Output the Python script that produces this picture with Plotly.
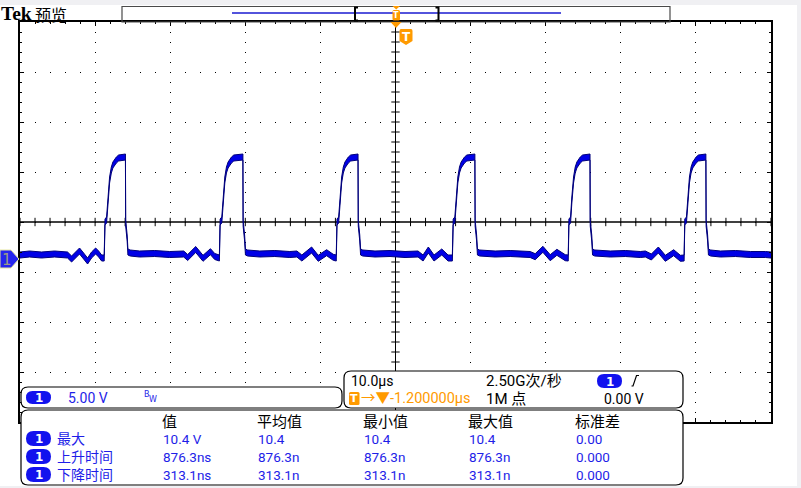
import numpy as np
import plotly.graph_objects as go

# ---------------- data read from the screen ----------------
# channel 1 waveform: time in microseconds, voltage in volts
time_us = [
    -50.0, -48.73, -47.13, -45.40, -43.67, -43.13, -42.60, -42.07, -41.53, -41.00, -40.47, -39.93, -39.53, -39.13, -38.79,
    -38.68, -38.47, -38.29, -38.07, -37.84, -37.63, -37.17, -36.87, -35.96, -35.93, -35.73, -35.63, -35.33,
    -34.07, -32.07, -30.07, -28.20, -27.67, -26.60, -25.63, -24.64, -24.07, -23.45,
    -23.35, -23.13, -22.96, -22.73, -22.51, -22.29, -21.84, -21.53, -20.32, -20.29, -20.09, -19.98, -19.69,
    -18.07, -16.07, -14.07, -13.13, -12.47, -11.17, -10.29, -9.17, -8.29, -7.89,
    -7.79, -7.57, -7.40, -7.17, -6.95, -6.73, -6.28, -5.97, -4.99, -4.96, -4.76, -4.65, -4.36,
    -2.73, -0.73, 1.27, 3.00, 3.67, 4.37, 5.13, 6.16, 7.00, 7.57,
    7.68, 7.90, 8.07, 8.30, 8.52, 8.74, 9.19, 9.50, 10.57, 10.60, 10.80, 10.91, 11.20,
    13.27, 15.27, 17.27, 17.93, 18.60, 19.63, 20.60, 21.49, 22.60, 23.00,
    23.09, 23.31, 23.48, 23.71, 23.93, 24.15, 24.60, 24.91, 25.90, 25.93, 26.13, 26.24, 26.53,
    28.60, 30.60, 32.60, 33.27, 34.07, 35.00, 35.93, 37.04, 37.93, 38.43,
    38.52, 38.74, 38.91, 39.14, 39.36, 39.58, 40.03, 40.34, 41.33, 41.36, 41.56, 41.67, 41.96,
    43.27, 45.27, 47.27, 49.27, 50.0,
]
volts = [
    0.3, 0.4, 0.3, 0.4, 0.3, -0.1, 0.3, 0.7, 0.2, -0.3, 0.3, 0.7, 0.4, 0.0, 0.0,
    3.6, 3.8, 5.8, 7.8, 8.8, 9.3, 9.8, 10.0, 10.1, 3.5, 2.0, 0.6, 0.5,
    0.4, 0.45, 0.35, 0.4, 0.05, 0.85, -0.03, 0.63, 0.15, 0.0,
    3.6, 3.8, 5.8, 7.8, 8.8, 9.3, 9.8, 10.0, 10.1, 3.5, 2.0, 0.6, 0.5,
    0.4, 0.45, 0.35, 0.4, 0.0, 0.8, -0.03, 0.53, 0.07, 0.0,
    3.6, 3.8, 5.8, 7.8, 8.8, 9.3, 9.8, 10.0, 10.1, 3.5, 2.0, 0.6, 0.5,
    0.4, 0.45, 0.35, 0.4, 0.0, 0.8, 0.0, 0.6, 0.0, 0.0,
    3.6, 3.8, 5.8, 7.8, 8.8, 9.3, 9.8, 10.0, 10.1, 3.5, 2.0, 0.6, 0.5,
    0.4, 0.45, 0.35, 0.35, 0.13, 0.87, 0.03, 0.57, 0.03, 0.0,
    3.6, 3.8, 5.8, 7.8, 8.8, 9.3, 9.8, 10.0, 10.1, 3.5, 2.0, 0.6, 0.5,
    0.4, 0.45, 0.35, 0.4, 0.1, 0.8, -0.03, 0.53, -0.03, 0.0,
    3.6, 3.8, 5.8, 7.8, 8.8, 9.3, 9.8, 10.0, 10.1, 3.5, 2.0, 0.6, 0.5,
    0.4, 0.45, 0.35, 0.35, 0.3,
]

# scope settings shown on screen
time_per_div = 10.0          # µs/div
volts_per_div = 5.0          # V/div
screen_center_v = 3.6        # voltage at the screen centre line
channel_scale_text = "5.00 V"
timebase_text = "10.0µs"
sample_rate_text = "2.50G次/秒"
record_text = "1M 点"
trigger_pos_text = "→▼-1.200000µs"
trigger_level_text = "0.00 V"

# measurement table
meas_headers = ["值", "平均值", "最小值", "最大值", "标准差"]
meas_names = ["最大", "上升时间", "下降时间"]
meas_values = [
    ["10.4 V", "10.4", "10.4", "10.4", "0.00"],
    ["876.3ns", "876.3n", "876.3n", "876.3n", "0.000"],
    ["313.1ns", "313.1n", "313.1n", "313.1n", "0.000"],
]

# ---------------- styling ----------------
W, H = 801, 488
L, T, R, B = 20, 22, 30, 66
PW, PH = W - L - R, H - T - B
BAND = 0.3                    # half thickness of the displayed trace band (V)
NAVY = "#00007a"
TRACE_BLUE = "#0000e6"
TXT_BLUE = "#1e1ee8"
PILL_BLUE = "#1212ee"
ORANGE = "#ff9a00"
LATIN = "Roboto, Noto Sans CJK SC"
CJK = "Noto Sans CJK SC"

x_range = [-5 * time_per_div, 5 * time_per_div]
y_range = [screen_center_v - 4 * volts_per_div, screen_center_v + 4 * volts_per_div]


def px(x):
    return (x - L) / PW


def py(y):
    return (T + PH - y) / PH


def P(x, y):
    return f"{px(x):.5f},{py(y):.5f}"


def rrect(x0, y0, x1, y1, r):
    return (f"M{P(x0 + r, y0)} L{P(x1 - r, y0)} Q{P(x1, y0)} {P(x1, y0 + r)} "
            f"L{P(x1, y1 - r)} Q{P(x1, y1)} {P(x1 - r, y1)} L{P(x0 + r, y1)} "
            f"Q{P(x0, y1)} {P(x0, y1 - r)} L{P(x0, y0 + r)} Q{P(x0, y0)} {P(x0 + r, y0)} Z")


fig = go.Figure()

# graticule: minor marks on the centre cross
cx_ticks = np.arange(x_range[0], x_range[1] + 1e-9, time_per_div / 5)
cy_ticks = np.arange(y_range[0], y_range[1] + 1e-9, volts_per_div / 5)
fig.add_trace(go.Scatter(x=cx_ticks, y=[screen_center_v] * len(cx_ticks), mode="markers",
                         marker=dict(symbol="line-ns", size=6, line=dict(width=1, color="black")),
                         hoverinfo="skip"))
fig.add_trace(go.Scatter(x=[0] * len(cy_ticks), y=cy_ticks, mode="markers",
                         marker=dict(symbol="line-ew", size=6, line=dict(width=1, color="black")),
                         hoverinfo="skip"))
# centre horizontal line
fig.add_trace(go.Scatter(x=x_range, y=[screen_center_v, screen_center_v], mode="lines",
                         line=dict(color="black", width=1.5), hoverinfo="skip"))

# waveform as a band
lower = [v - BAND for v in volts]
upper = [v + BAND for v in volts]
fig.add_trace(go.Scatter(x=time_us, y=lower, mode="lines", line=dict(color=NAVY, width=1),
                         hoverinfo="skip"))
fig.add_trace(go.Scatter(x=time_us, y=upper, mode="lines", line=dict(color=NAVY, width=1),
                         fill="tonexty", fillcolor=TRACE_BLUE, hoverinfo="skip"))

fig.update_layout(
    width=W, height=H, margin=dict(l=L, r=R, t=T, b=B, autoexpand=False),
    paper_bgcolor="white", plot_bgcolor="white", showlegend=False,
    font=dict(family=LATIN, color="black"),
    xaxis=dict(range=x_range, dtick=time_per_div, tick0=0, showticklabels=False,
               showgrid=True, gridcolor="black", gridwidth=1, griddash="1px,9px",
               zeroline=True, zerolinecolor="black", zerolinewidth=1.5,
               showline=True, linecolor="black", linewidth=2, mirror="allticks",
               ticks="inside", ticklen=4, tickcolor="black", automargin=False,
               minor=dict(dtick=time_per_div / 5, tick0=0, ticks="inside", ticklen=2,
                          tickcolor="black", showgrid=False)),
    yaxis=dict(range=y_range, dtick=volts_per_div, tick0=screen_center_v, showticklabels=False,
               showgrid=True, gridcolor="black", gridwidth=1, griddash="1px,14px",
               zeroline=False, showline=True, linecolor="black", linewidth=2, mirror="allticks",
               ticks="inside", ticklen=4, tickcolor="black", automargin=False,
               minor=dict(dtick=volts_per_div / 5, tick0=screen_center_v, ticks="inside", ticklen=2,
                          tickcolor="black", showgrid=False)),
)

shapes = []
ann = []


def text(t, x, y, size, color="black", family=LATIN, xanchor="left", bold=False):
    ann.append(dict(text=f"<b>{t}</b>" if bold else t, x=px(x), y=py(y), xref="paper", yref="paper",
                    showarrow=False, xanchor=xanchor, yanchor="middle", align="left",
                    font=dict(size=size, color=color, family=family), borderpad=0))


def pill(x0, y0, x1, y1, label="1"):
    r = (y1 - y0) / 2
    shapes.append(dict(type="path", path=rrect(x0, y0, x1, y1, r), xref="paper", yref="paper",
                       fillcolor=PILL_BLUE, line=dict(width=0)))
    text(label, (x0 + x1) / 2, (y0 + y1) / 2 + 0.5, 12, "white", "DejaVu Sans", "center", True)


# light frame strips of the window
for (x0, y0, x1, y1) in [(0, 0, 801, 5), (797, 0, 801, 488), (0, 486, 801, 488)]:
    shapes.append(dict(type="rect", xref="paper", yref="paper", x0=px(x0), x1=px(x1),
                       y0=py(y1), y1=py(y0), fillcolor="#f0f0f3", line=dict(width=0)))

# top record bar
shapes.append(dict(type="rect", xref="paper", yref="paper", x0=px(122), x1=px(670), y0=py(22), y1=py(6.5),
                   line=dict(color="#4a4a4a", width=1.2), fillcolor="rgba(0,0,0,0)"))
shapes.append(dict(type="line", xref="paper", yref="paper", x0=px(232), x1=px(561), y0=py(13), y1=py(13),
                   line=dict(color="#1a1ad0", width=1.5)))
shapes.append(dict(type="path", xref="paper", yref="paper",
                   path=f"M{P(358, 7.5)} L{P(355, 7.5)} L{P(355, 20.5)} L{P(358, 20.5)}",
                   line=dict(color="black", width=2)))
shapes.append(dict(type="path", xref="paper", yref="paper",
                   path=f"M{P(435.5, 7.5)} L{P(438.5, 7.5)} L{P(438.5, 20.5)} L{P(435.5, 20.5)}",
                   line=dict(color="black", width=2)))
# trigger position marks
shapes.append(dict(type="path", xref="paper", yref="paper",
                   path=f"M{P(392.5, 6)} L{P(400, 6)} L{P(396.2, 9.5)} Z", fillcolor=ORANGE, line=dict(width=0)))
shapes.append(dict(type="path", xref="paper", yref="paper", path=rrect(392.5, 10, 400, 20.5, 1.5),
                   fillcolor=ORANGE, line=dict(width=0)))
text("T", 396.3, 15.5, 8, "white", "DejaVu Sans", "center", True)
shapes.append(dict(type="path", xref="paper", yref="paper",
                   path=f"M{P(390.5, 22)} L{P(401.5, 22)} L{P(396, 28)} Z", fillcolor=ORANGE, line=dict(width=0)))
shapes.append(dict(type="path", xref="paper", yref="paper",
                   path=f"M{P(401, 29)} L{P(411, 29)} Q{P(412.5, 29)} {P(412.5, 31)} L{P(412.5, 41)} "
                        f"L{P(406, 45)} L{P(399.5, 41)} L{P(399.5, 31)} Q{P(399.5, 29)} {P(401, 29)} Z",
                   fillcolor=ORANGE, line=dict(width=0)))
text("T", 406, 36.5, 12, "white", "DejaVu Sans", "center", True)

# channel ground marker
shapes.append(dict(type="path", xref="paper", yref="paper",
                   path=f"M{P(0, 250)} L{P(11, 250)} L{P(19, 259)} L{P(11, 268)} L{P(0, 268)} Z",
                   fillcolor="#2626ee", line=dict(color="#e6e6a0", width=1)))
text("1", 7.5, 259.5, 15, "#9a9a86", "DejaVu Sans", "center")

# Tek header
text("Tek", -0.5, 14, 19.5, "black", "Liberation Serif", "left", True)
text("预览", 34, 14, 16, "black", CJK)

# channel box
shapes.append(dict(type="path", xref="paper", yref="paper", path=rrect(21, 387, 342, 408, 7),
                   fillcolor="white", line=dict(color="black", width=1.2)))
pill(26, 391, 51, 404)
text(channel_scale_text, 67, 397.5, 14, TXT_BLUE)
text("B", 142.5, 394, 8, TXT_BLUE, "DejaVu Sans")
text("W", 148.3, 399.5, 8, TXT_BLUE, "DejaVu Sans")

# timebase / trigger box
shapes.append(dict(type="path", xref="paper", yref="paper", path=rrect(344, 371, 683, 408, 7),
                   fillcolor="white", line=dict(color="black", width=1.2)))
text(timebase_text, 349.5, 381, 14, "black")
text(sample_rate_text, 484.5, 381, 15, "black")
pill(597, 374, 622, 388)
shapes.append(dict(type="path", xref="paper", yref="paper",
                   path=f"M{P(631.5, 386)} L{P(633, 386)} L{P(636.5, 375.5)} L{P(639, 375.5)}",
                   line=dict(color="black", width=1.2)))
shapes.append(dict(type="path", xref="paper", yref="paper", path=rrect(349, 392, 359.5, 405, 1.5),
                   fillcolor=ORANGE, line=dict(width=0)))
text("T", 354.3, 398.5, 11, "white", "DejaVu Sans", "center", True)
text(trigger_pos_text, 360, 398.5, 14.5, ORANGE)
text(record_text, 484.5, 398.5, 15, "black")
text(trigger_level_text, 603, 398.5, 14, "black")

# measurement box
shapes.append(dict(type="path", xref="paper", yref="paper", path=rrect(21, 410, 683, 485, 7),
                   fillcolor="white", line=dict(color="black", width=1.2)))
col_x = [162, 257, 363, 468, 575]
row_y = [438.5, 456.5, 474.5]
for cx, h in zip(col_x, meas_headers):
    text(h, cx - 1, 420.5, 15, "black", CJK)
# row names as one multi-line label (line pitch matches the row pitch)
text("<br>".join(meas_names), 55.5, row_y[1] - 0.5, 14, TXT_BLUE, CJK)
for ry, vals in zip(row_y, meas_values):
    pill(26, ry - 7.5, 51, ry + 7.5)
    for cx, v in zip(col_x, vals):
        text(v, cx, ry, 13.5, TXT_BLUE)

fig.update_layout(shapes=shapes, annotations=ann)
fig.write_html("out.html", config={"displayModeBar": False, "staticPlot": True},
               post_script="document.body.style.margin='0px';document.body.style.overflow='hidden';")
